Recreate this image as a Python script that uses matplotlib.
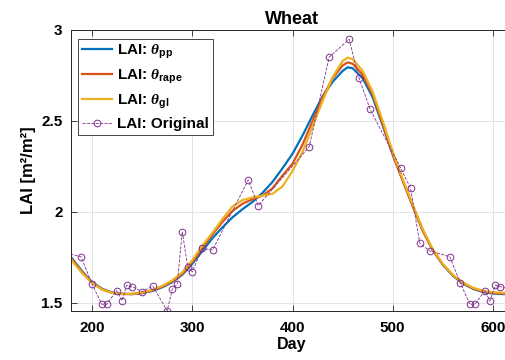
import numpy as np
import matplotlib
matplotlib.use('Agg')
import matplotlib.pyplot as plt

plt.rcParams['font.family'] = ['Liberation Sans', 'DejaVu Sans']
plt.rcParams['font.weight'] = 'bold'
plt.rcParams['mathtext.fontset'] = 'custom'
plt.rcParams['mathtext.rm'] = 'Liberation Sans:bold'
plt.rcParams['mathtext.bf'] = 'Liberation Sans:bold'
plt.rcParams['mathtext.it'] = 'Liberation Serif:italic'

# fitted curves, read every 10 days
days_fit = [180, 190, 200, 210, 220, 230, 240, 250, 260, 270, 280, 290, 300,
            310, 320, 330, 340, 350, 360, 370, 380, 390, 400, 410, 420, 430,
            440, 450, 455, 460, 470, 480, 490, 500, 510, 520, 530, 540, 550,
            560, 570, 580, 590, 600, 610, 620]
lai_pp = [1.745, 1.675, 1.615, 1.578, 1.558, 1.550, 1.549, 1.554, 1.566, 1.586,
          1.614, 1.655, 1.715, 1.785, 1.855, 1.915, 1.970, 2.015, 2.055, 2.105,
          2.165, 2.240, 2.320, 2.420, 2.530, 2.635, 2.715, 2.775, 2.795, 2.790,
          2.735, 2.630, 2.475, 2.315, 2.175, 2.035, 1.900, 1.790, 1.710, 1.650,
          1.607, 1.578, 1.560, 1.552, 1.549, 1.549]
lai_rape = [1.740, 1.670, 1.612, 1.575, 1.556, 1.549, 1.549, 1.555, 1.568, 1.589,
            1.618, 1.660, 1.725, 1.800, 1.875, 1.945, 2.005, 2.045, 2.070, 2.090,
            2.130, 2.200, 2.265, 2.370, 2.500, 2.630, 2.735, 2.805, 2.822, 2.815,
            2.755, 2.645, 2.485, 2.315, 2.170, 2.030, 1.895, 1.790, 1.712, 1.652,
            1.610, 1.580, 1.563, 1.555, 1.552, 1.552]
lai_gl = [1.732, 1.665, 1.610, 1.574, 1.556, 1.550, 1.551, 1.558, 1.572, 1.594,
          1.624, 1.668, 1.735, 1.815, 1.885, 1.960, 2.030, 2.065, 2.080, 2.090,
          2.100, 2.140, 2.225, 2.330, 2.470, 2.610, 2.740, 2.830, 2.848, 2.840,
          2.775, 2.660, 2.500, 2.330, 2.180, 2.040, 1.905, 1.795, 1.715, 1.655,
          1.613, 1.584, 1.567, 1.559, 1.556, 1.555]

# original LAI samples
days_orig = [174, 189, 200, 209.7, 214.6, 224.6, 230, 234.6, 240, 250, 260.5,
             275, 280, 285, 290, 295.4, 300, 310, 320.3, 355.8, 365.8, 416.7,
             436.5, 456.5, 466.2, 477.5, 507.8, 517.8, 527, 537, 557, 567.6,
             577, 582, 592, 597, 602.5, 607.5, 617]
lai_orig = [1.775, 1.754, 1.604, 1.493, 1.493, 1.568, 1.513, 1.599, 1.590, 1.562,
            1.593, 1.458, 1.575, 1.603, 1.892, 1.700, 1.672, 1.800, 1.791, 2.176,
            2.035, 2.359, 2.850, 2.949, 2.738, 2.564, 2.243, 2.130, 1.828, 1.786,
            1.754, 1.608, 1.493, 1.493, 1.568, 1.511, 1.599, 1.590, 1.575]

fig = plt.figure(figsize=(5.06, 3.6), dpi=100)
ax = fig.add_axes([71 / 506, 1 - 311 / 360, (513 - 71) / 506, 281 / 360])

ax.plot(days_fit, lai_pp, color='#0072BD', lw=1.6, label=r'LAI: $\mathit{\theta}_{\mathbf{pp}}$')
ax.plot(days_fit, lai_rape, color='#D95319', lw=1.6, label=r'LAI: $\mathit{\theta}_{\mathbf{rape}}$')
ax.plot(days_fit, lai_gl, color='#EDB120', lw=1.6, label=r'LAI: $\mathit{\theta}_{\mathbf{gl}}$')
ax.plot(days_orig, lai_orig, color='#7E2F8E', lw=0.6, ls='--', marker='o',
        ms=4.8, mfc='none', mew=0.7, label='LAI: Original')

ax.set_xlim(179, 620)
ax.set_ylim(1.456, 3.0)
ax.set_xticks([200, 300, 400, 500, 600])
ax.set_yticks([1.5, 2, 2.5, 3])
ax.set_yticklabels(['1.5', '2', '2.5', '3'])
ax.grid(True, color='#dedede', lw=0.6)
ax.set_axisbelow(True)
ax.tick_params(direction='in', length=4, width=0.6, color='#262626',
               labelsize=11, top=True, right=False)
ax.tick_params(axis='x', pad=7)
ax.tick_params(axis='y', pad=6)
for s in ['left', 'bottom', 'top']:
    ax.spines[s].set_color('#262626')
    ax.spines[s].set_linewidth(0.7)
ax.spines['right'].set_visible(False)

ax.set_title('Wheat', fontsize=13, fontweight='bold', pad=4)
ax.set_xlabel('Day', fontsize=11.5, fontweight='bold', labelpad=2)
ax.set_ylabel('LAI [m²/m²]', fontsize=12, fontweight='bold', labelpad=4)

leg = ax.legend(loc='upper left', bbox_to_anchor=(0.016, 0.968), borderaxespad=0,
                fancybox=False, edgecolor='#262626', framealpha=1,
                prop={'size': 11, 'weight': 'bold'}, handlelength=2.0,
                handletextpad=0.3, labelspacing=0.45, borderpad=0.25)
leg.get_frame().set_linewidth(0.6)

fig.savefig('out.png', dpi=100)
